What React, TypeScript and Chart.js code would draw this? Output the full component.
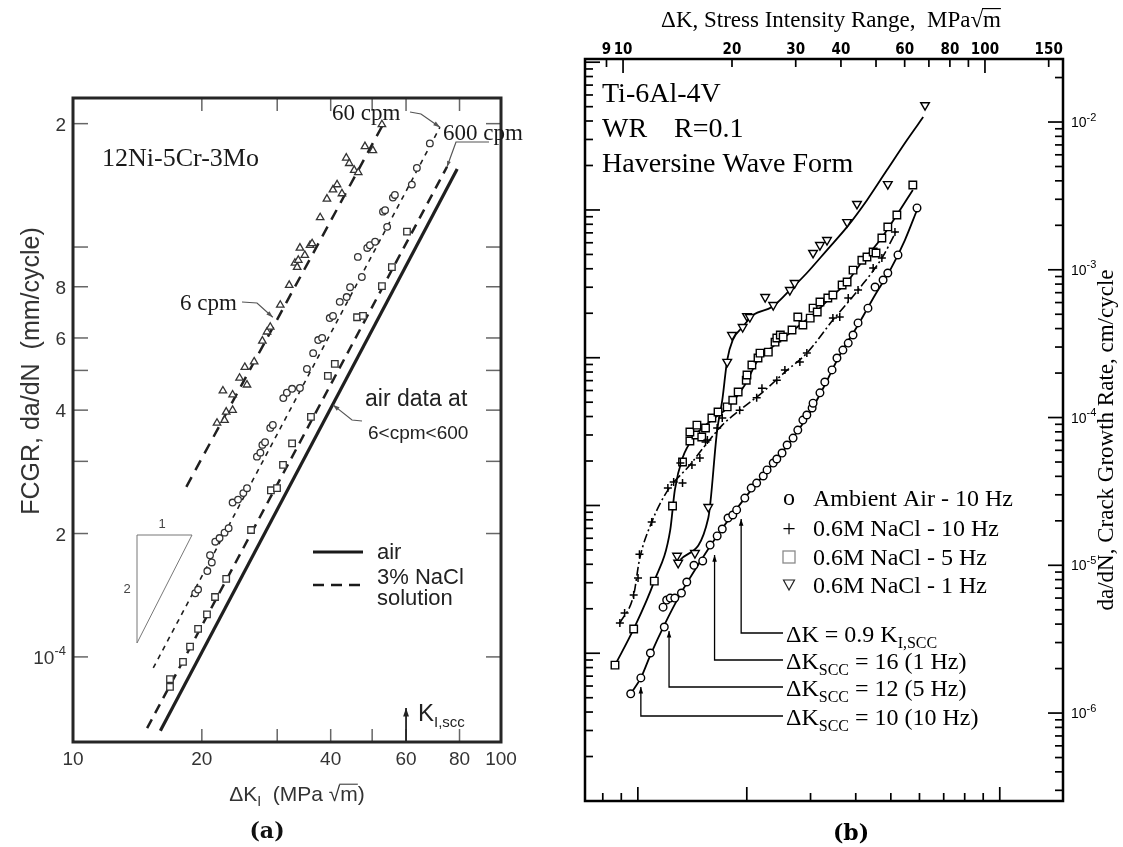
import React, { useEffect, useRef } from 'react';
import { Chart, registerables } from 'chart.js';

Chart.register(...registerables);

const SANS = '"Liberation Sans", Arial, Helvetica, sans-serif';
const SERIF = '"Liberation Serif", "Times New Roman", serif';
const BOLDSERIF = '"DejaVu Serif", "Liberation Serif", serif';
const NARROW = '"DejaVu Sans Condensed", "Liberation Sans Narrow", "Liberation Sans", sans-serif';

// ================= Panel (a): 12Ni-5Cr-3Mo, FCGR vs dK =================
const aXRange = [10, 100];
const aYRange = [6.2e-5, 2.31e-3];
const aXLabelValues = [10, 20, 40, 60, 80, 100];
const aXTickMarks = [20, 30, 40, 50, 60, 80];
const aYLabelValues = [1e-4, 2e-4, 4e-4, 6e-4, 8e-4, 2e-3];
const aYLabels = ['10^-4', '2', '4', '6', '8', '2'];
const aYTickMarks = [1e-4, 2e-4, 3e-4, 4e-4, 5e-4, 6e-4, 8e-4, 1e-3, 2e-3];

// fitted lines
const aAirLineK = [16.0, 79.0];
const aAirLineRate = [6.6e-5, 1.55e-3];
const a600LineK = [14.9, 74.8];
const a600LineRate = [6.7e-5, 1.57e-3];
const a60LineK = [15.4, 72.0];
const a60LineRate = [9.4e-5, 1.96e-3];
const a6LineK = [18.4, 53.0];
const a6LineRate = [2.6e-4, 1.99e-3];

// 600 cpm (squares)
const a600K = [16.85, 16.85, 18.07, 18.77, 19.6, 20.56, 21.47, 22.8, 26.06, 29.0, 29.97, 30.95, 32.5, 35.97, 39.4, 40.9, 46.1, 47.6, 52.7, 55.6, 60.3];
const a600Rate = [8.83e-5, 8.45e-5, 9.72e-5, 1.06e-4, 1.17e-4, 1.27e-4, 1.40e-4, 1.55e-4, 2.04e-4, 2.55e-4, 2.58e-4, 2.94e-4, 3.32e-4, 3.85e-4, 4.85e-4, 5.19e-4, 6.74e-4, 6.79e-4, 8.03e-4, 8.93e-4, 1.09e-3];
// 60 cpm (circles)
const a60K = [19.3, 19.6, 20.6, 21.1, 20.9, 21.5, 22.0, 22.6, 23.1, 23.6, 24.3, 25.0, 25.5, 26.9, 27.4, 27.7, 28.1, 28.9, 29.3, 31.0, 31.6, 32.5, 33.9, 35.2, 36.4, 37.4, 38.2, 39.8, 40.5, 42.0, 43.6, 44.4, 47.3, 46.3, 48.7, 49.4, 50.8, 54.2, 53.0, 53.6, 55.9, 56.5, 61.9, 63.6, 68.2];
const a60Rate = [1.43e-4, 1.46e-4, 1.62e-4, 1.70e-4, 1.77e-4, 1.91e-4, 1.95e-4, 2.01e-4, 2.06e-4, 2.38e-4, 2.42e-4, 2.51e-4, 2.58e-4, 3.08e-4, 3.15e-4, 3.29e-4, 3.34e-4, 3.62e-4, 3.68e-4, 4.28e-4, 4.41e-4, 4.51e-4, 4.53e-4, 5.04e-4, 5.51e-4, 5.93e-4, 6.0e-4, 6.71e-4, 6.79e-4, 7.35e-4, 7.55e-4, 7.98e-4, 8.45e-4, 9.46e-4, 9.95e-4, 1.01e-3, 1.03e-3, 1.12e-3, 1.22e-3, 1.23e-3, 1.32e-3, 1.34e-3, 1.42e-3, 1.56e-3, 1.79e-3];
// 6 cpm (triangles)
const a6K = [21.7, 22.6, 22.8, 23.6, 22.4, 23.6, 24.5, 25.5, 25.2, 26.5, 27.7, 28.4, 28.9, 30.5, 32.0, 33.0, 33.4, 33.6, 33.9, 34.8, 35.8, 36.2, 37.8, 39.2, 40.5, 41.4, 42.5, 43.5, 44.2, 45.4, 46.4, 48.1, 50.2, 52.7];
const a6Rate = [3.72e-4, 3.78e-4, 3.96e-4, 4.0e-4, 4.46e-4, 4.36e-4, 4.79e-4, 4.61e-4, 5.09e-4, 5.25e-4, 5.90e-4, 6.21e-4, 6.38e-4, 7.22e-4, 8.07e-4, 9.14e-4, 8.93e-4, 9.29e-4, 9.95e-4, 9.55e-4, 1.01e-3, 1.02e-3, 1.18e-3, 1.31e-3, 1.38e-3, 1.42e-3, 1.35e-3, 1.65e-3, 1.60e-3, 1.54e-3, 1.52e-3, 1.76e-3, 1.72e-3, 1.99e-3];

// leader arrow targets (data coords): 60 cpm, 600 cpm, 6 cpm, air
const aLeaderK = [72.0, 74.8, 29.3, 40.5];
const aLeaderRate = [1.96e-3, 1.57e-3, 6.74e-4, 4.12e-4];
const aKiscc = 60;

// ================= Panel (b): Ti-6Al-4V =================
const bXRange = [7.85, 164.3]; // MPa sqrt(m)
const bYRange = [2.54e-7, 2.67e-2]; // cm/cycle
const MPA_PER_KSI = 1.0988;
const CM_PER_IN = 2.54;
const bTopTicks = [9, 10, 20, 30, 40, 50, 60, 70, 80, 90, 100, 150];
const bTopMajor = [10, 100];
const bTopLabels = [9, 10, 20, 30, 40, 60, 80, 100, 150];
const bBottomTicks = [8, 9, 10, 20, 30, 40, 50, 60, 70, 80, 90, 100];
const bBottomMajor = [10, 20, 100];
const bRightExp = [-2, -3, -4, -5, -6];

// 0.6M NaCl - 1 Hz (triangles down)
const b1HzK = [14.1, 14.2, 15.8, 17.2, 19.4, 20.0, 21.4, 22.0, 22.4, 24.7, 26.0, 28.9, 29.8, 33.5, 35.0, 36.6, 41.6, 44.3, 53.9, 68.3];
const b1HzRate = [1.16e-5, 1.04e-5, 1.21e-5, 2.48e-5, 2.38e-4, 3.62e-4, 4.10e-4, 4.86e-4, 4.79e-4, 6.54e-4, 5.77e-4, 7.29e-4, 8.13e-4, 1.30e-3, 1.47e-3, 1.59e-3, 2.10e-3, 2.79e-3, 3.80e-3, 1.30e-2];
const b1HzCurveK = [14.4, 17.2, 18.2, 18.8, 19.4, 20.1, 21.4, 22.9, 25.8, 28.4, 32.2, 36.6, 41.6, 47.2, 53.6, 60.9, 67.5];
const b1HzCurveRate = [1.09e-5, 2.09e-5, 8.22e-5, 1.31e-4, 2.45e-4, 3.35e-4, 4.10e-4, 4.95e-4, 5.60e-4, 6.97e-4, 9.51e-4, 1.36e-3, 1.95e-3, 2.96e-3, 4.73e-3, 7.56e-3, 1.08e-2];

// 0.6M NaCl - 5 Hz (squares)
const b5HzK = [9.5, 10.7, 12.2, 13.7, 14.6, 15.3, 15.9, 15.3, 16.0, 16.5, 16.9, 17.6, 18.3, 19.4, 20.1, 20.8, 21.9, 22.0, 22.7, 23.6, 23.9, 25.2, 26.3, 26.6, 27.2, 27.7, 29.3, 30.4, 31.4, 32.9, 33.5, 34.4, 35.0, 36.8, 38.0, 40.3, 41.6, 43.2, 45.7, 47.2, 49.1, 50.0, 51.9, 53.9, 57.1, 63.2];
const b5HzRate = [2.11e-6, 3.71e-6, 7.82e-6, 2.52e-5, 5.0e-5, 6.94e-5, 7.62e-5, 7.98e-5, 8.89e-5, 7.38e-5, 8.49e-5, 9.93e-5, 1.09e-4, 1.18e-4, 1.31e-4, 1.49e-4, 1.79e-4, 1.94e-4, 2.27e-4, 2.53e-4, 2.73e-4, 2.77e-4, 3.24e-4, 3.45e-4, 3.62e-4, 3.51e-4, 3.91e-4, 4.79e-4, 4.23e-4, 4.71e-4, 5.5e-4, 5.18e-4, 6.05e-4, 6.44e-4, 6.75e-4, 7.88e-4, 8.26e-4, 9.95e-4, 1.16e-3, 1.22e-3, 1.32e-3, 1.30e-3, 1.64e-3, 1.95e-3, 2.35e-3, 3.75e-3];
const b5HzCurveK = [9.5, 10.7, 12.2, 13.5, 13.9, 14.6, 15.8, 17.6, 19.4, 21.7, 23.6, 26.3, 28.9, 30.8, 33.9, 37.3, 41.6, 45.7, 51.3, 57.1, 63.2];
const b5HzCurveRate = [2.11e-6, 3.71e-6, 7.82e-6, 1.73e-5, 3.23e-5, 5.32e-5, 7.5e-5, 9.62e-5, 1.16e-4, 1.66e-4, 2.45e-4, 3.10e-4, 3.73e-4, 4.23e-4, 5.09e-4, 6.44e-4, 8.26e-4, 1.13e-3, 1.59e-3, 2.35e-3, 3.47e-3];

// 0.6M NaCl - 10 Hz (plus)
const b10HzK = [9.8, 10.1, 10.7, 11.0, 11.1, 12.0, 13.3, 13.8, 14.6, 14.4, 15.5, 16.3, 16.9, 17.1, 18.2, 18.8, 21.0, 23.4, 24.2, 26.6, 28.0, 30.8, 32.2, 38.0, 39.7, 41.9, 44.6, 49.1, 51.9, 56.4];
const b10HzRate = [4.07e-6, 4.75e-6, 6.3e-6, 8.2e-6, 1.19e-5, 1.96e-5, 3.33e-5, 3.66e-5, 3.60e-5, 4.92e-5, 4.77e-5, 5.32e-5, 6.82e-5, 7.05e-5, 8.49e-5, 9.93e-5, 1.12e-4, 1.36e-4, 1.58e-4, 1.79e-4, 2.10e-4, 2.38e-4, 2.73e-4, 4.71e-4, 4.79e-4, 6.44e-4, 7.29e-4, 1.03e-3, 1.20e-3, 1.80e-3];
const b10HzCurveK = [9.8, 10.7, 11.1, 12.0, 13.3, 15.3, 16.9, 18.8, 21.0, 24.2, 28.0, 32.2, 38.0, 44.6, 51.9, 57.1];
const b10HzCurveRate = [4.07e-6, 6.3e-6, 1.09e-5, 1.96e-5, 3.23e-5, 4.77e-5, 6.52e-5, 8.89e-5, 1.12e-4, 1.47e-4, 2.03e-4, 2.73e-4, 4.57e-4, 7.29e-4, 1.20e-3, 1.86e-3];

// Ambient air - 10 Hz (circles)
const bAirK = [10.5, 11.2, 11.9, 13.0, 12.9, 13.2, 13.5, 13.9, 14.5, 15.0, 15.7, 16.6, 17.4, 18.2, 18.8, 19.5, 20.1, 20.6, 21.7, 22.6, 23.4, 24.4, 25.0, 26.0, 26.6, 27.5, 28.4, 29.5, 30.4, 31.4, 32.2, 33.3, 33.5, 35.0, 36.1, 37.8, 39.0, 40.5, 41.9, 43.2, 44.6, 47.5, 49.7, 52.3, 53.9, 57.5, 64.9];
const bAirRate = [1.35e-6, 1.73e-6, 2.55e-6, 3.82e-6, 5.21e-6, 5.82e-6, 6.0e-6, 6.0e-6, 6.49e-6, 7.71e-6, 1.0e-5, 1.07e-5, 1.37e-5, 1.58e-5, 1.76e-5, 2.09e-5, 2.19e-5, 2.37e-5, 2.85e-5, 3.33e-5, 3.6e-5, 4.02e-5, 4.42e-5, 4.92e-5, 5.24e-5, 5.75e-5, 6.52e-5, 7.26e-5, 8.22e-5, 9.61e-5, 1.04e-4, 1.16e-4, 1.25e-4, 1.47e-4, 1.74e-4, 2.10e-4, 2.53e-4, 2.86e-4, 3.19e-4, 3.62e-4, 4.37e-4, 5.5e-4, 7.64e-4, 8.53e-4, 9.51e-4, 1.26e-3, 2.62e-3];
const bAirCurveK = [10.5, 11.2, 11.9, 13.0, 14.4, 16.3, 18.5, 21.7, 25.5, 28.9, 32.9, 36.1, 39.7, 44.6, 49.7, 54.7, 60.1, 64.9];
const bAirCurveRate = [1.35e-6, 1.73e-6, 2.47e-6, 3.94e-6, 6.38e-6, 1.05e-5, 1.68e-5, 2.85e-5, 4.62e-5, 6.82e-5, 1.09e-4, 1.66e-4, 2.65e-4, 4.23e-4, 6.75e-4, 9.95e-4, 1.59e-3, 2.54e-3];

// annotation arrows (data coords of tips)
const bNoteK = [21.2, 17.9, 13.4, 11.2];
const bNoteRate = [2.12e-5, 1.21e-5, 3.71e-6, 1.55e-6];
const bLegendLabels = ['Ambient Air - 10 Hz', '0.6M NaCl - 10 Hz', '0.6M NaCl - 5 Hz', '0.6M NaCl - 1 Hz'];

// ================= helpers =================
type Run = { t: string; s?: 'sub' | 'sup'; over?: boolean };

const pts = (xs: number[], ys: number[]) => xs.map((x, i) => ({ x, y: ys[i] }));

function seg(ctx: CanvasRenderingContext2D, x1: number, y1: number, x2: number, y2: number) {
  ctx.beginPath();
  ctx.moveTo(x1, y1);
  ctx.lineTo(x2, y2);
  ctx.stroke();
}

function rich(ctx: CanvasRenderingContext2D, runs: Run[], x: number, y: number, size: number, family: string, align: 'left' | 'center' | 'right' = 'left', weight = 'normal', subRatio = 0.68) {
  const small = Math.round(size * subRatio);
  const font = (r: Run) => `${weight} ${r.s ? small : size}px ${family}`;
  let total = 0;
  const ws = runs.map((r) => {
    ctx.font = font(r);
    const w = ctx.measureText(r.t).width;
    total += w;
    return w;
  });
  let cx = align === 'left' ? x : align === 'center' ? x - total / 2 : x - total;
  ctx.textAlign = 'left';
  ctx.textBaseline = 'alphabetic';
  runs.forEach((r, i) => {
    ctx.font = font(r);
    const dy = r.s === 'sub' ? size * 0.24 : r.s === 'sup' ? -size * 0.45 : 0;
    ctx.fillText(r.t, cx, y + dy);
    if (r.over) {
      ctx.save();
      ctx.lineWidth = Math.max(1, size / 20);
      ctx.strokeStyle = ctx.fillStyle as string;
      seg(ctx, cx - 1, y - size * 0.8, cx + ws[i], y - size * 0.8);
      ctx.restore();
    }
    cx += ws[i];
  });
  return total;
}

function arrow(ctx: CanvasRenderingContext2D, p: number[][], head: number, width: number, color: string) {
  ctx.save();
  ctx.strokeStyle = color;
  ctx.fillStyle = color;
  ctx.lineWidth = width;
  ctx.beginPath();
  ctx.moveTo(p[0][0], p[0][1]);
  for (let i = 1; i < p.length; i++) ctx.lineTo(p[i][0], p[i][1]);
  ctx.stroke();
  const [x1, y1] = p[p.length - 2];
  const [x2, y2] = p[p.length - 1];
  const a = Math.atan2(y2 - y1, x2 - x1);
  ctx.beginPath();
  ctx.moveTo(x2, y2);
  ctx.lineTo(x2 - head * Math.cos(a - 0.33), y2 - head * Math.sin(a - 0.33));
  ctx.lineTo(x2 - head * Math.cos(a + 0.33), y2 - head * Math.sin(a + 0.33));
  ctx.closePath();
  ctx.fill();
  ctx.restore();
}

function logTicks(min: number, max: number) {
  const out: { v: number; major: boolean }[] = [];
  for (let e = Math.floor(Math.log10(min)); e <= Math.ceil(Math.log10(max)); e++) {
    for (let m = 1; m <= 9; m++) {
      const v = m * Math.pow(10, e);
      if (v >= min * 1.0001 && v <= max * 0.9999) out.push({ v, major: m === 1 });
    }
  }
  return out;
}

// ================= plugins =================
const panelAPlugin = {
  id: 'panelA',
  afterDraw(chart: any) {
    const { ctx, chartArea: ca } = chart;
    const sx = chart.scales.x;
    const sy = chart.scales.y;
    ctx.save();
    // inward ticks
    ctx.strokeStyle = '#666';
    ctx.lineWidth = 1.5;
    aXTickMarks.forEach((v) => {
      const p = sx.getPixelForValue(v);
      seg(ctx, p, ca.bottom, p, ca.bottom - 13);
      seg(ctx, p, ca.top, p, ca.top + 13);
    });
    aYTickMarks.forEach((v) => {
      const p = sy.getPixelForValue(v);
      seg(ctx, ca.left, p, ca.left + 15, p);
      seg(ctx, ca.right, p, ca.right - 15, p);
    });
    // frame
    ctx.strokeStyle = '#262626';
    ctx.lineWidth = 3;
    ctx.strokeRect(ca.left, ca.top, ca.right - ca.left, ca.bottom - ca.top);

    // tick labels
    ctx.fillStyle = '#333';
    aXLabelValues.forEach((v) => {
      rich(ctx, [{ t: String(v) }], sx.getPixelForValue(v), ca.bottom + 23, 19, SANS, 'center');
    });
    aYLabelValues.forEach((v, i) => {
      const lab = aYLabels[i];
      const runs: Run[] = lab.includes('^') ? [{ t: lab.split('^')[0] }, { t: lab.split('^')[1], s: 'sup' }] : [{ t: lab }];
      rich(ctx, runs, ca.left - 7, sy.getPixelForValue(v) + 7, 19, SANS, 'right');
    });

    // axis titles
    ctx.save();
    ctx.translate(30, 371);
    ctx.rotate(-Math.PI / 2);
    rich(ctx, [{ t: 'FCGR, da/dN  (mm/cycle)' }], 0, 9, 25, SANS, 'center');
    ctx.restore();
    rich(ctx, [{ t: '\u0394K' }, { t: 'I', s: 'sub' }, { t: '  (MPa ' }, { t: '\u221A' }, { t: 'm', over: true }, { t: ')' }], 297, 801, 21, SANS, 'center');
    ctx.fillStyle = '#111';
    rich(ctx, [{ t: '(a)' }], 267, 838, 22, BOLDSERIF, 'center', 'bold');

    // annotations
    ctx.fillStyle = '#1a1a1a';
    rich(ctx, [{ t: '12Ni-5Cr-3Mo' }], ca.left + 29, 166, 26, SERIF);
    rich(ctx, [{ t: '60 cpm' }], 332, 120, 23, SERIF);
    rich(ctx, [{ t: '600 cpm' }], 443, 140, 23, SERIF);
    rich(ctx, [{ t: '6 cpm' }], 180, 310, 23, SERIF);
    ctx.fillStyle = '#222';
    rich(ctx, [{ t: 'air data at' }], 365, 406, 23, SANS);
    rich(ctx, [{ t: '6<cpm<600' }], 368, 439, 19, SANS);

    const tip = (i: number) => [sx.getPixelForValue(aLeaderK[i]), sy.getPixelForValue(aLeaderRate[i])];
    arrow(ctx, [[410, 112], [421, 114], tip(0)], 7, 1.2, '#555');
    arrow(ctx, [[489, 142], [456, 142], tip(1)], 6, 1.2, '#555');
    arrow(ctx, [[242, 302], [257, 303], tip(2)], 7, 1.2, '#555');
    arrow(ctx, [[362, 421], [352, 420], tip(3)], 7, 1.2, '#555');

    // K_I,scc arrow
    const kx = sx.getPixelForValue(aKiscc);
    arrow(ctx, [[kx, ca.bottom - 1], [kx, ca.bottom - 34]], 9, 1.8, '#222');
    ctx.fillStyle = '#222';
    rich(ctx, [{ t: 'K' }, { t: 'I,scc', s: 'sub' }], 418, 721, 24, SANS, 'left', 'normal', 0.62);

    // slope triangle
    ctx.strokeStyle = '#777';
    ctx.lineWidth = 1;
    ctx.beginPath();
    ctx.moveTo(137, 643);
    ctx.lineTo(137, 535);
    ctx.lineTo(192, 535);
    ctx.closePath();
    ctx.stroke();
    ctx.fillStyle = '#444';
    rich(ctx, [{ t: '1' }], 162, 528, 13, SANS, 'center');
    rich(ctx, [{ t: '2' }], 127, 593, 13, SANS, 'center');

    // legend
    ctx.strokeStyle = '#1a1a1a';
    ctx.lineWidth = 3;
    seg(ctx, 313, 552, 363, 552);
    ctx.lineWidth = 2.6;
    ctx.setLineDash([11, 7]);
    seg(ctx, 313, 585, 363, 585);
    ctx.setLineDash([]);
    ctx.fillStyle = '#222';
    rich(ctx, [{ t: 'air' }], 377, 559, 22, SANS);
    rich(ctx, [{ t: '3% NaCl' }], 377, 584, 22, SANS);
    rich(ctx, [{ t: 'solution' }], 377, 605, 22, SANS);
    ctx.restore();
  },
};

const panelBPlugin = {
  id: 'panelB',
  afterDraw(chart: any) {
    const { ctx, chartArea: ca } = chart;
    const sx = chart.scales.x;
    const sy = chart.scales.y;
    const sx2 = chart.scales.x2;
    const sy2 = chart.scales.y2;
    ctx.save();
    ctx.strokeStyle = '#000';
    ctx.lineWidth = 1.7;
    bTopTicks.forEach((v) => {
      const p = sx.getPixelForValue(v);
      seg(ctx, p, ca.top, p, ca.top + (bTopMajor.includes(v) ? 14 : 8));
    });
    bBottomTicks.forEach((v) => {
      const p = sx2.getPixelForValue(v);
      seg(ctx, p, ca.bottom, p, ca.bottom - (bBottomMajor.includes(v) ? 14 : 8));
    });
    logTicks(sy.min, sy.max).forEach(({ v, major }) => {
      const p = sy.getPixelForValue(v);
      seg(ctx, ca.right, p, ca.right - (major ? 15 : 8), p);
    });
    logTicks(sy2.min, sy2.max).forEach(({ v, major }) => {
      const p = sy2.getPixelForValue(v);
      seg(ctx, ca.left, p, ca.left + (major ? 15 : 8), p);
    });
    ctx.lineWidth = 2.5;
    ctx.strokeRect(ca.left, ca.top, ca.right - ca.left, ca.bottom - ca.top);

    ctx.fillStyle = '#000';
    // top tick labels
    bTopLabels.forEach((v) => {
      rich(ctx, [{ t: String(v) }], sx.getPixelForValue(v), 54, 15, NARROW, 'center', 'bold');
    });
    // right tick labels
    bRightExp.forEach((e) => {
      rich(ctx, [{ t: '10' }, { t: String(e), s: 'sup' }], ca.right + 8, sy.getPixelForValue(Math.pow(10, e)) + 5, 14, SANS, 'left', 'normal', 0.75);
    });
    // titles
    rich(ctx, [{ t: '\u0394K, Stress Intensity Range,  MPa' }, { t: '\u221A' }, { t: 'm', over: true }], 831, 27, 23, SERIF, 'center');
    ctx.save();
    ctx.translate(1105, 440);
    ctx.rotate(-Math.PI / 2);
    rich(ctx, [{ t: 'da/dN, Crack Growth Rate, cm/cycle' }], 0, 8, 23, SERIF, 'center');
    ctx.restore();
    rich(ctx, [{ t: '(b)' }], 851, 840, 22, BOLDSERIF, 'center', 'bold');

    // header text block
    rich(ctx, [{ t: 'Ti-6Al-4V' }], 602, 102, 28, SERIF);
    rich(ctx, [{ t: 'WR' }], 602, 137, 28, SERIF);
    rich(ctx, [{ t: 'R=0.1' }], 674, 137, 28, SERIF);
    rich(ctx, [{ t: 'Haversine Wave Form' }], 602, 172, 28, SERIF);

    // legend
    const rows = [498, 528, 557, 585];
    bLegendLabels.forEach((lab, i) => rich(ctx, [{ t: lab }], 813, rows[i] + 8, 24, SERIF));
    rich(ctx, [{ t: 'o' }], 789, rows[0] + 7, 24, SERIF, 'center');
    rich(ctx, [{ t: '+' }], 789, rows[1] + 8, 24, SERIF, 'center');
    ctx.strokeStyle = '#8a8a8a';
    ctx.lineWidth = 1.3;
    ctx.strokeRect(783, rows[2] - 6, 12, 12);
    ctx.strokeStyle = '#222';
    ctx.lineWidth = 1.2;
    ctx.beginPath();
    ctx.moveTo(783.5, rows[3] - 5);
    ctx.lineTo(794.5, rows[3] - 5);
    ctx.lineTo(789, rows[3] + 5);
    ctx.closePath();
    ctx.stroke();

    // annotations with leaders
    const noteRows = [633, 660, 687, 716];
    const notes: Run[][] = [
      [{ t: '\u0394K = 0.9 K' }, { t: 'I,SCC', s: 'sub' }],
      [{ t: '\u0394K' }, { t: 'SCC', s: 'sub' }, { t: ' = 16 (1 Hz)' }],
      [{ t: '\u0394K' }, { t: 'SCC', s: 'sub' }, { t: ' = 12 (5 Hz)' }],
      [{ t: '\u0394K' }, { t: 'SCC', s: 'sub' }, { t: ' = 10 (10 Hz)' }],
    ];
    notes.forEach((runs, i) => {
      ctx.fillStyle = '#000';
      rich(ctx, runs, 786, noteRows[i] + 9, 24, SERIF, 'left', 'normal', 0.66);
      const tx = sx.getPixelForValue(bNoteK[i]);
      const ty = sy.getPixelForValue(bNoteRate[i]);
      arrow(ctx, [[783, noteRows[i]], [tx, noteRows[i]], [tx, ty + 2]], 7, 1.3, '#000');
    });
    ctx.restore();
  },
};

function logAxis(min: number, max: number, position: string) {
  return { type: 'logarithmic', position, min, max, display: false, bounds: 'data' };
}

function configA(): any {
  const marker = { showLine: false, borderColor: '#333', backgroundColor: '#fff', pointBorderWidth: 1.3, order: 0 };
  const line = { showLine: true, pointRadius: 0, borderColor: '#1f1f1f', order: 1 };
  return {
    type: 'scatter',
    data: {
      datasets: [
        { ...marker, label: '600 cpm', data: pts(a600K, a600Rate), pointStyle: 'rect', pointRadius: 4.6 },
        { ...marker, label: '60 cpm', data: pts(a60K, a60Rate), pointStyle: 'circle', pointRadius: 3.3 },
        { ...marker, label: '6 cpm', data: pts(a6K, a6Rate), pointStyle: 'triangle', pointRadius: 4.3 },
        { ...line, label: 'air', data: pts(aAirLineK, aAirLineRate), borderWidth: 3.2 },
        { ...line, label: '600 cpm fit', data: pts(a600LineK, a600LineRate), borderWidth: 2.5, borderDash: [10, 7] },
        { ...line, label: '60 cpm fit', data: pts(a60LineK, a60LineRate), borderWidth: 1.6, borderDash: [5, 5] },
        { ...line, label: '6 cpm fit', data: pts(a6LineK, a6LineRate), borderWidth: 2.5, borderDash: [11, 8] },
      ],
    },
    options: {
      animation: false,
      responsive: false,
      events: [],
      layout: { padding: { left: 73, top: 98, right: 1123 - 501, bottom: 847 - 742 } },
      plugins: { legend: { display: false }, tooltip: { enabled: false } },
      scales: {
        x: logAxis(aXRange[0], aXRange[1], 'bottom'),
        y: logAxis(aYRange[0], aYRange[1], 'left'),
      },
    },
    plugins: [panelAPlugin],
  };
}

function configB(): any {
  const marker = { showLine: false, borderColor: '#000', backgroundColor: '#fff', pointBorderWidth: 1.4, order: 0 };
  const curve = { showLine: true, pointRadius: 0, borderColor: '#000', borderWidth: 1.8, cubicInterpolationMode: 'monotone', order: 1 };
  return {
    type: 'scatter',
    data: {
      datasets: [
        { ...marker, label: 'Ambient Air - 10 Hz', data: pts(bAirK, bAirRate), pointStyle: 'circle', pointRadius: 3.8 },
        { ...marker, label: '0.6M NaCl - 10 Hz', data: pts(b10HzK, b10HzRate), pointStyle: 'cross', pointRadius: 4, pointBorderWidth: 1.5 },
        { ...marker, label: '0.6M NaCl - 5 Hz', data: pts(b5HzK, b5HzRate), pointStyle: 'rect', pointRadius: 5.3 },
        { ...marker, label: '0.6M NaCl - 1 Hz', data: pts(b1HzK, b1HzRate), pointStyle: 'triangle', pointRotation: 180, pointRadius: 5 },
        { ...curve, label: 'air curve', data: pts(bAirCurveK, bAirCurveRate) },
        { ...curve, label: '10 Hz curve', data: pts(b10HzCurveK, b10HzCurveRate), borderWidth: 1.6, borderDash: [9, 3, 2, 3] },
        { ...curve, label: '5 Hz curve', data: pts(b5HzCurveK, b5HzCurveRate) },
        { ...curve, label: '1 Hz curve', data: pts(b1HzCurveK, b1HzCurveRate) },
      ],
    },
    options: {
      animation: false,
      responsive: false,
      events: [],
      layout: { padding: { left: 585, top: 59, right: 1123 - 1063, bottom: 847 - 801 } },
      plugins: { legend: { display: false }, tooltip: { enabled: false } },
      scales: {
        x: logAxis(bXRange[0], bXRange[1], 'top'),
        y: logAxis(bYRange[0], bYRange[1], 'right'),
        x2: logAxis(bXRange[0] / MPA_PER_KSI, bXRange[1] / MPA_PER_KSI, 'bottom'),
        y2: logAxis(bYRange[0] / CM_PER_IN, bYRange[1] / CM_PER_IN, 'left'),
      },
    },
    plugins: [panelBPlugin],
  };
}

export default function App() {
  const refA = useRef<HTMLCanvasElement>(null);
  const refB = useRef<HTMLCanvasElement>(null);
  useEffect(() => {
    const ca = new Chart(refA.current as HTMLCanvasElement, configA());
    const cb = new Chart(refB.current as HTMLCanvasElement, configB());
    return () => {
      ca.destroy();
      cb.destroy();
    };
  }, []);
  const layer: React.CSSProperties = { position: 'absolute', left: 0, top: 0, width: 1123, height: 847 };
  return (
    <div style={{ position: 'absolute', left: 0, top: 0, width: 1123, height: 847, background: '#fff' }}>
      <canvas ref={refA} width={1123} height={847} style={layer} />
      <canvas ref={refB} width={1123} height={847} style={layer} />
    </div>
  );
}
